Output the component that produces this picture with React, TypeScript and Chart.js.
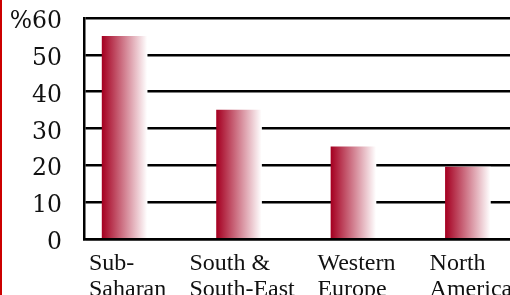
import React, { useEffect, useRef } from "react";
import { Chart, registerables } from "chart.js";

Chart.register(...registerables);

const CATEGORIES: string[][] = [
  ["Sub-", "Saharan"],
  ["South &", "South-East"],
  ["Western", "Europe"],
  ["North", "America"],
];
const VALUES: number[] = [55, 35, 25, 19.5];
const Y_TICKS: number[] = [0, 10, 20, 30, 40, 50, 60];
const Y_TICK_LABELS: string[] = ["0", "10", "20", "30", "40", "50", "%60"];

const xLabelPlugin = {
  id: "xLabels",
  afterDraw(chart: any) {
    const ctx = chart.ctx;
    const xs = chart.scales.x;
    const bottom = chart.chartArea.bottom;
    ctx.save();
    ctx.font = '24px "Liberation Serif"';
    ctx.fillStyle = "#111";
    ctx.textAlign = "left";
    ctx.textBaseline = "alphabetic";
    CATEGORIES.forEach((lines, i) => {
      const w = Math.max(...lines.map((l) => ctx.measureText(l).width));
      const x0 = xs.getPixelForValue(i) - w / 2 + 3;
      lines.forEach((l, j) => ctx.fillText(l, x0, bottom + 31 + j * 26));
    });
    ctx.restore();
  },
};

export default function App() {
  const ref = useRef<HTMLCanvasElement>(null);
  useEffect(() => {
    const canvas = ref.current!;
    const chart = new Chart(canvas, {
      type: "bar",
      data: {
        datasets: [
          {
            data: VALUES.map((v, i) => ({ x: i, y: v })),
            barThickness: 45,
            borderWidth: 0,
            backgroundColor: (c: any) => {
              const ch = c.chart;
              const xs = ch.scales.x;
              if (!xs || !ch.chartArea || c.dataIndex == null) return "#a50021";
              const cx = xs.getPixelForValue(c.dataIndex);
              const g = ch.ctx.createLinearGradient(cx - 22.5, 0, cx + 22.5, 0);
              g.addColorStop(0, "#a50021");
              g.addColorStop(1, "#ffffff");
              return g;
            },
          } as any,
        ],
      },
      options: {
        animation: false,
        responsive: false,
        layout: { padding: { top: 18, left: 0, right: 0, bottom: 0 } },
        plugins: { legend: { display: false }, tooltip: { enabled: false } },
        scales: {
          x: {
            type: "linear",
            offset: false,
            min: -0.355,
            max: 3.63,
            grid: { display: false, drawTicks: false, offset: false },
            border: { display: true, color: "#000", width: 2.5 },
            ticks: { display: false },
            afterFit: (s: any) => {
              s.height = 61;
              s.paddingLeft = 0;
              s.paddingRight = 0;
            },
          },
          y: {
            min: 0,
            max: 60,
            ticks: {
              stepSize: 10,
              padding: 22,
              labelOffset: 4,
              color: "#111",
              font: { family: '"DejaVu Serif"', size: 23.5 },
              callback: (v: any) => Y_TICK_LABELS[Y_TICKS.indexOf(Number(v))],
            },
            grid: { color: "#000", lineWidth: 2.5, drawTicks: false },
            border: { display: true, color: "#000", width: 2.5 },
            afterFit: (s: any) => {
              s.width = 84;
              s.paddingTop = 0;
              s.paddingBottom = 0;
            },
          },
        },
      } as any,
      plugins: [xLabelPlugin],
    });
    return () => chart.destroy();
  }, []);
  return (
    <div
      style={{
        position: "fixed",
        left: 0,
        top: 0,
        width: 510,
        height: 295,
        overflow: "hidden",
        background: "#fff",
      }}
    >
      <canvas
        ref={ref}
        width={540}
        height={300}
        style={{ position: "absolute", left: 0, top: 0, width: 540, height: 300 }}
      />
      <div
        style={{
          position: "absolute",
          left: 0,
          top: 0,
          width: 2,
          height: 295,
          background: "#cc0000",
        }}
      />
    </div>
  );
}
